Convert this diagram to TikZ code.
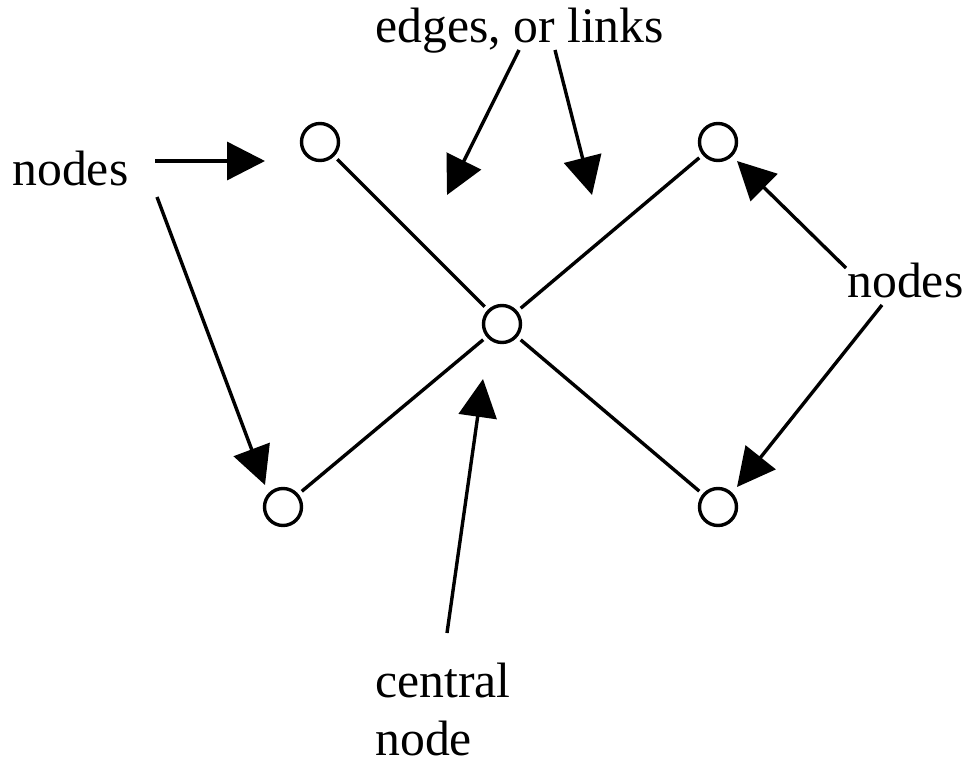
\documentclass[tikz,border=0pt]{standalone}
\usepackage{fontspec}
\setmainfont{Liberation Serif}
\usetikzlibrary{arrows.meta}

\begin{document}
\begin{tikzpicture}[
    x=0.5pt, y=-0.5pt,
    every node/.style={inner sep=0pt},
    font=\fontsize{24.85}{29}\selectfont,
    dot/.style={draw, circle, line width=1.7pt, minimum size=18.5pt, outer sep=3pt},
    caption/.style={anchor=base west, align=left},
    link/.style={line width=1.7pt},
    pointer/.style={line width=1.7pt, -{Triangle[length=19pt, width=19pt]}}
]
\useasboundingbox (0,0) rectangle (964,760);

% Network
\node[dot] (nw) at (320,142) {};
\node[dot] (ne) at (718,142) {};
\node[dot] (hub) at (502,324) {};
\node[dot] (sw) at (283,507) {};
\node[dot] (se) at (718,507) {};

\draw[link] (nw) -- (hub);
\draw[link] (ne) -- (hub);
\draw[link] (hub) -- (sw);
\draw[link] (hub) -- (se);

% Captions
\node[caption] (nodesL) at (12,185) {nodes};
\node[caption] (nodesR) at (847,297) {nodes};
\node[caption] (edgesT) at (375,42) {edges, or links};
\node[caption] (centralB) at (375,755) {central\\node};

% Pointer ends
\coordinate (nodesL1) at (155,161);
\coordinate (nodesL1tip) at (265,161);
\coordinate (nodesL2) at (157,197);
\coordinate (nodesL2tip) at (265,485);
\coordinate (edgesT1) at (519,50);
\coordinate (edgesT1tip) at (447,195);
\coordinate (edgesT2) at (555,50);
\coordinate (edgesT2tip) at (592,195);
\coordinate (nodesR1) at (846,268);
\coordinate (nodesR1tip) at (737,161);
\coordinate (nodesR2) at (882,305);
\coordinate (nodesR2tip) at (737,487);
\coordinate (centralB1) at (447,633);
\coordinate (centralB1tip) at (483,379);

% Pointers
\draw[pointer] (nodesL1) -- (nodesL1tip);
\draw[pointer] (nodesL2) -- (nodesL2tip);
\draw[pointer] (edgesT1) -- (edgesT1tip);
\draw[pointer] (edgesT2) -- (edgesT2tip);
\draw[pointer] (nodesR1) -- (nodesR1tip);
\draw[pointer] (nodesR2) -- (nodesR2tip);
\draw[pointer] (centralB1) -- (centralB1tip);

\end{tikzpicture}
\end{document}
